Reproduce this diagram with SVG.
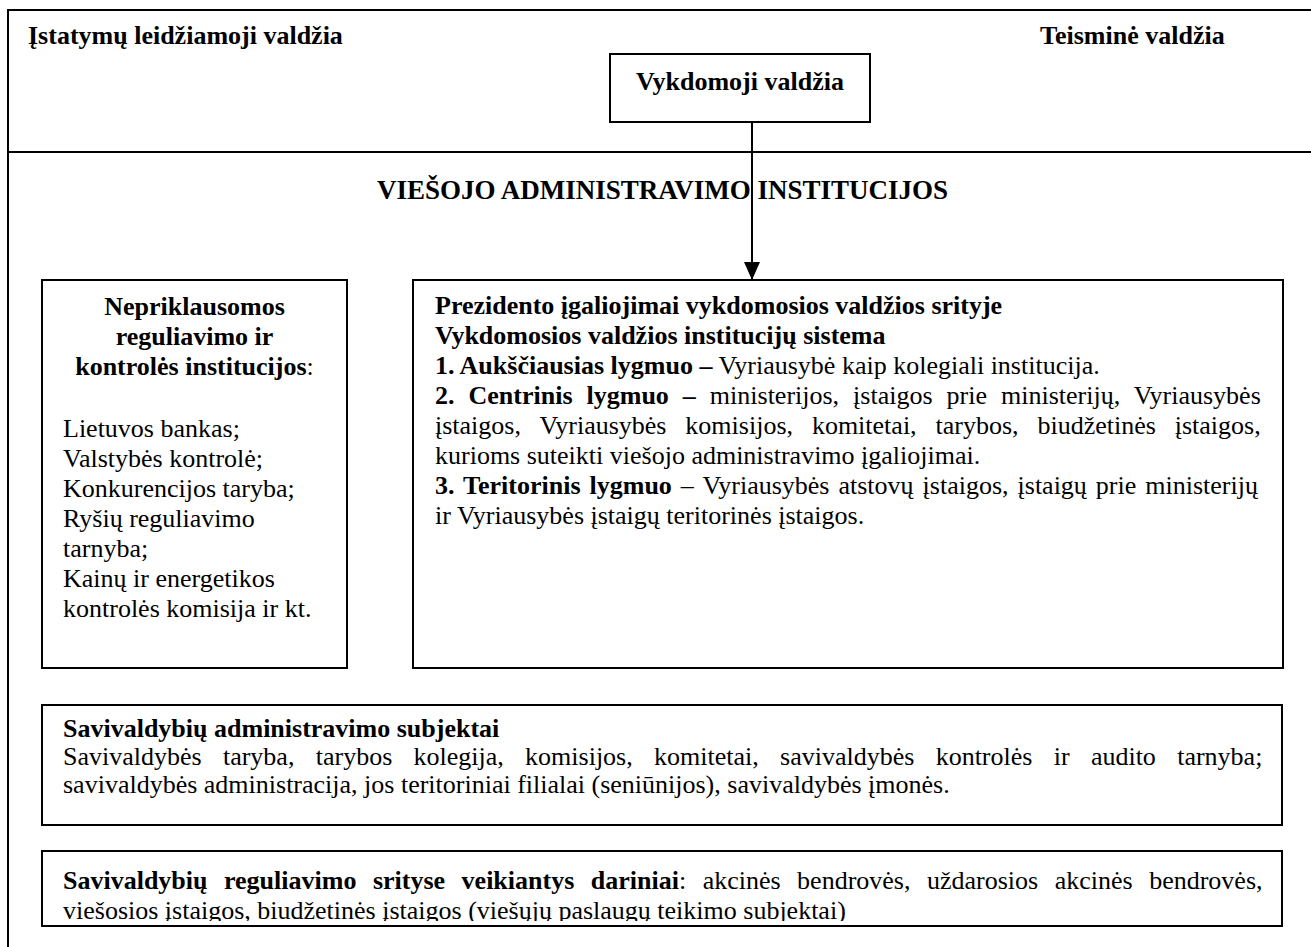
<svg xmlns="http://www.w3.org/2000/svg" width="1311" height="947" viewBox="0 0 1311 947">
  <style>
    .frame { fill: none; stroke: #000; stroke-width: 2; }
    .box { fill: #fff; stroke: #000; stroke-width: 2; }
    .link { stroke: #000; stroke-width: 2; fill: none; }
    text { font-family: "Liberation Serif", "Times New Roman", serif; font-size: 26px; fill: #000; }
    .b { font-weight: bold; }
    .c { text-anchor: middle; }
  </style>
  <defs>
    <!-- solid triangular head, drawn along +x so orient="auto" points it down the line -->
    <marker id="arrowhead" viewBox="0 0 18 16" refX="18" refY="8" markerWidth="18" markerHeight="16" markerUnits="userSpaceOnUse" orient="auto">
      <polygon points="0,0 18,8 0,16" fill="#000"/>
    </marker>
    <clipPath id="clip-darinai">
      <rect x="44" y="853" width="1236" height="68"/>
    </clipPath>
  </defs>

  <rect fill="#fff" x="0" y="0" width="1311" height="947"/>

  <!-- outer frame: runs past the right and bottom edges -->
  <g id="frame">
    <rect class="frame" x="8" y="10" width="1330" height="960"/>
    <line class="frame" x1="8" y1="152" x2="1311" y2="152"/>
  </g>

  <g id="istatymu-leidziamoji">
    <text class="b" x="28" y="44">Įstatymų leidžiamoji valdžia</text>
  </g>

  <g id="teismine">
    <text class="b" x="1040" y="44">Teisminė valdžia</text>
  </g>

  <g id="vykdomoji">
    <rect class="box" x="610" y="54" width="260" height="68"/>
    <text class="b c" x="740" y="90">Vykdomoji valdžia</text>
  </g>

  <g id="title">
    <text class="b" x="377" y="199" style="font-size:27px">VIEŠOJO ADMINISTRAVIMO INSTITUCIJOS</text>
  </g>

  <g id="connectors">
    <line class="link" x1="752" y1="122" x2="752" y2="280" marker-end="url(#arrowhead)"/>
  </g>

  <g id="nepriklausomos">
    <rect class="box" x="42" y="280" width="305" height="388"/>
    <text class="b c" x="194.5" y="315">Nepriklausomos</text>
    <text class="b c" x="194.5" y="345">reguliavimo ir</text>
    <text class="c" x="194.5" y="375"><tspan class="b">kontrolės institucijos</tspan>:</text>
    <text x="63" y="437">Lietuvos bankas;</text>
    <text x="63" y="467">Valstybės kontrolė;</text>
    <text x="63" y="497">Konkurencijos taryba;</text>
    <text x="63" y="527">Ryšių reguliavimo</text>
    <text x="63" y="557">tarnyba;</text>
    <text x="63" y="587">Kainų ir energetikos</text>
    <text x="63" y="617">kontrolės komisija ir kt.</text>
  </g>

  <g id="vykdomosios-sistema">
    <rect class="box" x="413" y="280" width="870" height="388"/>
    <text class="b" x="435" y="314">Prezidento įgaliojimai vykdomosios valdžios srityje</text>
    <text class="b" x="435" y="344">Vykdomosios valdžios institucijų sistema</text>
    <text x="435" y="374"><tspan class="b">1. Aukščiausias lygmuo –</tspan> Vyriausybė kaip kolegiali institucija.</text>
    <text x="435" y="404" word-spacing="7.5"><tspan class="b">2. Centrinis lygmuo –</tspan> ministerijos, įstaigos prie ministerijų, Vyriausybės</text>
    <text x="435" y="434" word-spacing="12.4">įstaigos, Vyriausybės komisijos, komitetai, tarybos, biudžetinės įstaigos,</text>
    <text x="435" y="464">kurioms suteikti viešojo administravimo įgaliojimai.</text>
    <text x="435" y="494" word-spacing="2.5"><tspan class="b">3. Teritorinis lygmuo</tspan> – Vyriausybės atstovų įstaigos, įstaigų prie ministerijų</text>
    <text x="435" y="524">ir Vyriausybės įstaigų teritorinės įstaigos.</text>
  </g>

  <g id="savivaldybiu-subjektai">
    <rect class="box" x="42" y="705" width="1240" height="120"/>
    <text class="b" x="63" y="737">Savivaldybių administravimo subjektai</text>
    <text x="63" y="765" word-spacing="14.8">Savivaldybės taryba, tarybos kolegija, komisijos, komitetai, savivaldybės kontrolės ir audito tarnyba;</text>
    <text x="63" y="793">savivaldybės administracija, jos teritoriniai filialai (seniūnijos), savivaldybės įmonės.</text>
  </g>

  <g id="savivaldybiu-dariniai">
    <rect class="box" x="42" y="851" width="1240" height="75"/>
    <g clip-path="url(#clip-darinai)">
      <text x="63" y="889" word-spacing="10">
        <tspan class="b">Savivaldybių reguliavimo srityse veikiantys dariniai</tspan>: akcinės bendrovės, uždarosios akcinės bendrovės,</text>
      <text x="63" y="919">viešosios įstaigos, biudžetinės įstaigos (viešųjų paslaugų teikimo subjektai)</text>
    </g>
  </g>
</svg>
